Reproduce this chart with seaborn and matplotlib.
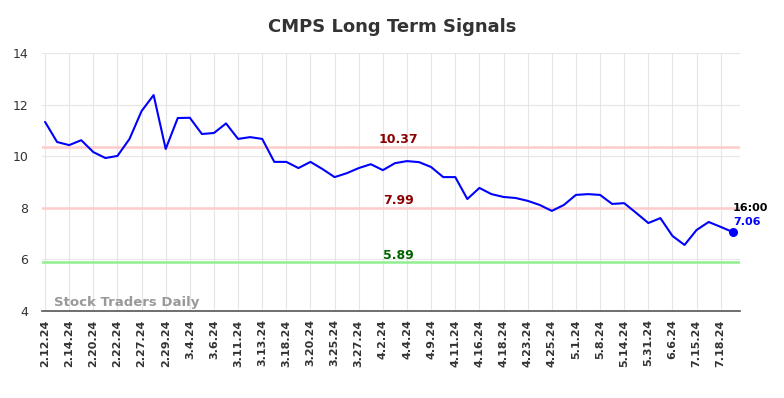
import numpy as np
import pandas as pd
import matplotlib
matplotlib.use("Agg")
import matplotlib.pyplot as plt
import seaborn as sns

values = [11.33, 10.55, 10.43, 10.62, 10.16, 9.93, 10.01, 10.67, 11.75, 12.37,
          10.28, 11.48, 11.49, 10.86, 10.90, 11.27, 10.67, 10.74, 10.67, 9.78,
          9.78, 9.54, 9.78, 9.50, 9.19, 9.34, 9.54, 9.69, 9.46, 9.73,
          9.81, 9.77, 9.58, 9.19, 9.19, 8.34, 8.77, 8.53, 8.42, 8.38,
          8.27, 8.11, 7.88, 8.11, 8.50, 8.53, 8.50, 8.15, 8.18, 7.80,
          7.41, 7.60, 6.91, 6.56, 7.14, 7.45, 7.26, 7.06]
tick_labels = ["2.12.24", "2.14.24", "2.20.24", "2.22.24", "2.27.24", "2.29.24", "3.4.24",
               "3.6.24", "3.11.24", "3.13.24", "3.18.24", "3.20.24", "3.25.24", "3.27.24",
               "4.2.24", "4.4.24", "4.9.24", "4.11.24", "4.16.24", "4.18.24", "4.23.24",
               "4.25.24", "5.1.24", "5.8.24", "5.14.24", "5.31.24", "6.6.24", "7.15.24",
               "7.18.24"]
signal_levels = [10.37, 7.99, 5.89]
signal_colors = ["#ffcccc", "#ffcccc", "#90ee90"]
signal_text_colors = ["#8b0000", "#8b0000", "#006400"]
last_time = "16:00"

df = pd.DataFrame({"idx": np.arange(len(values)), "value": values})

sns.set_style("white")
plt.rcParams['font.family'] = ['DejaVu Sans']

fig = plt.figure(figsize=(7.84, 3.98), dpi=100)
ax = fig.add_axes([0.0536, 0.2186, 0.8903, 0.6482])

for lvl, c in zip(signal_levels, signal_colors):
    ax.axhline(lvl, color=c, lw=1.8, zorder=1)

sns.lineplot(data=df, x="idx", y="value", ax=ax, color="#0000ff", lw=1.5, zorder=3)
ax.scatter([df.idx.iloc[-1]], [df.value.iloc[-1]], color="#0000ff", s=30, zorder=4)

ax.set_xlim(-0.25, 57.6)
ax.set_ylim(4, 14)
ax.set_yticks([4, 6, 8, 10, 12, 14])
tick_pos = np.arange(0, len(values), 2)[:len(tick_labels)]
ax.set_xticks(tick_pos)
ax.set_xticklabels(tick_labels, rotation=90, fontweight="bold", fontsize=8, color="#333333")
ax.tick_params(axis="y", labelsize=9, colors="#333333", length=0, pad=10)
ax.tick_params(axis="x", length=0, pad=6)
ax.grid(True, color="#e6e6e6", lw=0.8)
ax.set_axisbelow(True)
ax.set_xlabel("")
ax.set_ylabel("")
for s in ["top", "right", "left"]:
    ax.spines[s].set_visible(False)
ax.spines["bottom"].set_color("#555555")
ax.spines["bottom"].set_linewidth(1.2)

mid = 29.3
for lvl, tc in zip(signal_levels, signal_text_colors):
    ax.text(mid, lvl + 0.28, f"{lvl:.2f}", color=tc, fontsize=9, fontweight="bold",
            ha="center", va="center")

ax.text(57.0, values[-1] + 0.93, last_time, color="black", fontsize=8, fontweight="bold",
        ha="left", va="center")
ax.text(57.0, values[-1] + 0.39, f"{values[-1]:.2f}", color="#0000ff", fontsize=8, fontweight="bold",
        ha="left", va="center")

ax.text(0.75, 4.32, "Stock Traders Daily", color="#999999", fontsize=9.5, fontweight="bold",
        ha="left", va="center")

fig.suptitle("CMPS Long Term Signals", fontsize=13, fontweight="bold", color="#333333", y=0.955)

fig.savefig("out.png", dpi=100)
